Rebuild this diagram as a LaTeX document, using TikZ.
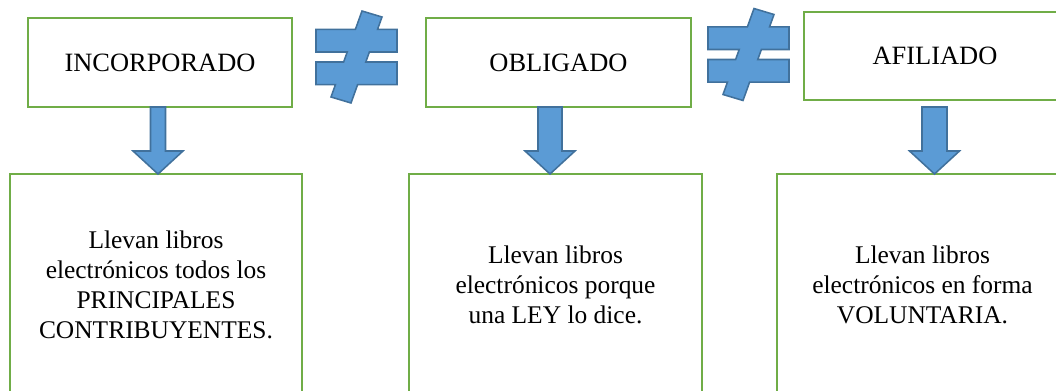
\documentclass[tikz,border=0pt]{standalone}
\usepackage{fontspec}
\setmainfont{Liberation Serif}
\usetikzlibrary{calc}

\definecolor{verde}{HTML}{70AD47}
\definecolor{azul}{HTML}{5B9BD5}
\definecolor{azulborde}{HTML}{41719C}

% block arrow: start, tip, x position, half shaft width
\newcommand{\flecha}[4]{%
	\draw [simbolo] let \p1 = (#1), \p2 = (#2) in
		(#3-#4,\y1) -- (#3+#4,\y1) -- (#3+#4,\y2+0.575cm) -- (#3+0.625cm,\y2+0.575cm) --
		(#3,\y2) -- (#3-0.625cm,\y2+0.575cm) -- (#3-#4,\y2+0.575cm) -- cycle;
}

\begin{document}
\begin{tikzpicture}[
	caja/.style = {draw = verde, line width = 1.4pt, fill = white, inner sep = 0pt, outer sep = 0pt,
		align = center, font = \fontsize{18.1}{21.2}\selectfont},
	titulo/.style = {caja, minimum height = 2.225cm, font = \fontsize{18.8}{21.2}\selectfont},
	simbolo/.style = {draw = azulborde, fill = azul, line width = 1.1pt, line join = miter}
]

	\useasboundingbox (0,0) rectangle (26.4,9.75);
	\clip (0,0) rectangle (26.4,9.75);

	\node [titulo, minimum width = 6.6cm] (inc) at (4.0,8.1875) {INCORPORADO};
	\node [titulo, minimum width = 6.625cm] (obl) at (13.9625,8.1875) {OBLIGADO};
	\node [titulo, minimum width = 6.55cm, minimum height = 2.2cm] (afi) at (23.375,8.35) {AFILIADO};

	\node [caja, minimum width = 7.3cm, minimum height = 5.55cm] (b1) at (3.9,2.625)
		{Llevan libros\\electrónicos todos los\\PRINCIPALES\\CONTRIBUYENTES.};
	\node [caja, minimum width = 7.325cm, minimum height = 5.55cm] (b2) at (13.8875,2.625)
		{Llevan libros\\electrónicos porque\\una LEY lo dice.};
	\node [caja, minimum width = 7.275cm, minimum height = 5.55cm] (b3) at (23.0625,2.625)
		{Llevan libros\\electrónicos en forma\\VOLUNTARIA.};

	\flecha{inc.south}{b1.north}{3.95cm}{0.1875cm}
	\flecha{obl.south}{b2.north}{13.75cm}{0.3cm}
	\flecha{$(afi.south)+(0,-0.175)$}{b3.north}{23.3625cm}{0.3125cm}

	% not equal signs
	\foreach \x/\y in {8.9125/8.325, 18.7125/8.3875}
		\draw [simbolo, shift = {(\x,\y)}]
			(0.1375,1.15) -- (0.6375,1.0) -- (0.526,0.69) -- (1.0125,0.69) --
			(1.0125,0.125) -- (0.322,0.125) -- (0.232,-0.125) -- (1.0125,-0.125) --
			(1.0125,-0.69) -- (0.028,-0.69) -- (-0.1375,-1.15) -- (-0.6375,-1.0) --
			(-0.526,-0.69) -- (-1.0125,-0.69) -- (-1.0125,-0.125) -- (-0.322,-0.125) --
			(-0.232,0.125) -- (-1.0125,0.125) -- (-1.0125,0.69) -- (-0.028,0.69) -- cycle;

\end{tikzpicture}
\end{document}
